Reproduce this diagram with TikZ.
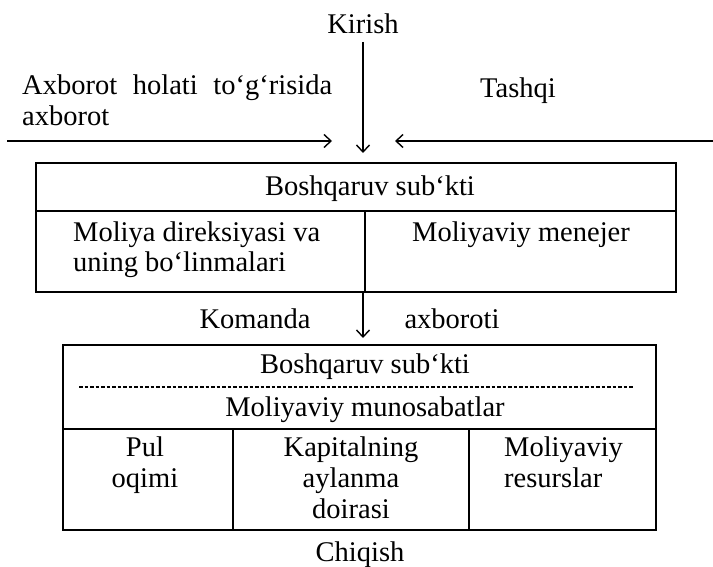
\documentclass[tikz,border=0pt]{standalone}
\usepackage{fontspec}
\setmainfont{Liberation Serif}
\usetikzlibrary{arrows.meta}
\begin{document}
\begin{tikzpicture}[x=1pt,y=-1pt,
  txt/.style={inner sep=0pt, font=\fontsize{28.5}{31}\selectfont},
  frame/.style={draw, line width=1.8pt, inner sep=0pt},
  ln/.style={line width=1.8pt},
  dsh/.style={line width=1.3pt, dash pattern=on 3.5pt off 2pt},
  arr/.style={line width=1.7pt, -{Straight Barb[length=7pt,width=13pt,line width=1.4pt]}},
]
\useasboundingbox (0,0) rectangle (713,567);

% top texts
\node[txt, anchor=base] (kirish) at (363,34) {Kirish};
\node[txt, anchor=base west] (axb) at (22,95) {\begin{tabular}[t]{@{}l@{}}\makebox[310pt][s]{Axborot holati to‘g‘risida}\\axborot\end{tabular}};
\node[txt, anchor=base] (tashqi) at (518,98) {Tashqi};

% connectors into the first box
\coordinate (kin) at (363,42);
\coordinate (kout) at (363,153);
\coordinate (lin) at (7,141);
\coordinate (lout) at (332,141);
\coordinate (rin) at (713,141);
\coordinate (rout) at (395,141);
\draw[arr] (kin) -- (kout);
\draw[arr] (lin) -- (lout);
\draw[arr] (rin) -- (rout);

% first box
\node[frame, minimum width=640pt, minimum height=129pt] (b1) at (356,227.5) {};
\draw[ln] (36,211) -- (676,211);
\draw[ln] (365,211) -- (365,292);
\node[txt, anchor=base] (bs1) at (370,196) {Boshqaruv sub‘kti};
\node[txt, anchor=base west] (mol) at (73,241) {\begin{tabular}[t]{@{}l@{}}Moliya direksiyasi va\\uning bo‘linmalari\end{tabular}};
\node[txt, anchor=base] (men) at (521,241) {Moliyaviy menejer};

% command information
\coordinate (cin) at (363,292);
\coordinate (cout) at (363,338);
\draw[arr] (cin) -- (cout);
\node[txt, anchor=base] (kom) at (255,328) {Komanda};
\node[txt, anchor=base] (axi) at (452,328) {axboroti};

% second box
\node[frame, minimum width=593pt, minimum height=185pt] (b2) at (359.5,437.5) {};
\draw[dsh] (79,387) -- (633,387);
\draw[ln] (63,429) -- (656,429);
\draw[ln] (233,429) -- (233,530);
\draw[ln] (469,429) -- (469,530);
\node[txt, anchor=base] (bs2) at (365,373) {Boshqaruv sub‘kti};
\node[txt, anchor=base] (mun) at (365,416) {Moliyaviy munosabatlar};
\node[txt, anchor=base] (pul) at (145,456) {\begin{tabular}[t]{@{}c@{}}Pul\\oqimi\end{tabular}};
\node[txt, anchor=base] (kap) at (351,456) {\begin{tabular}[t]{@{}c@{}}Kapitalning\\aylanma\\doirasi\end{tabular}};
\node[txt, anchor=base west] (res) at (504,456) {\begin{tabular}[t]{@{}l@{}}Moliyaviy\\resurslar\end{tabular}};

\node[txt, anchor=base] (chiq) at (360,561) {Chiqish};
\end{tikzpicture}
\end{document}
